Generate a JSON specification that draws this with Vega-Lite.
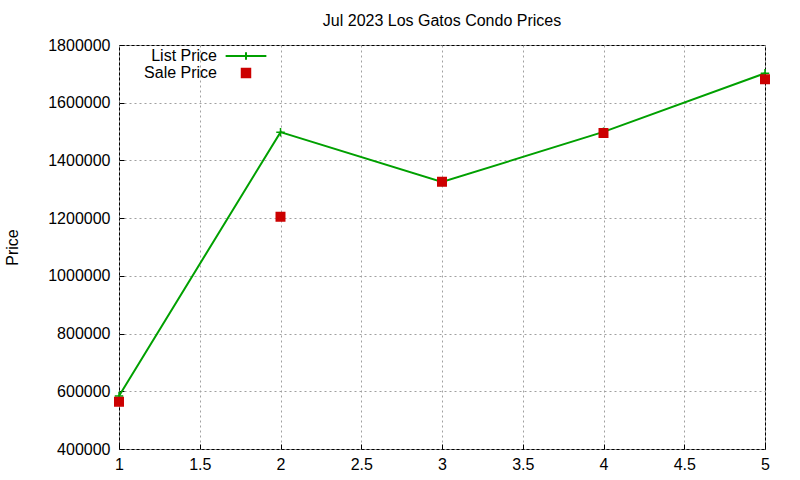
{
  "$schema": "https://vega.github.io/schema/vega-lite/v6.json",
  "autosize": "none",
  "width": 646,
  "height": 404,
  "padding": {"left": 119, "top": 45, "right": 35, "bottom": 31},
  "background": "white",
  "title": {
    "text": "Jul 2023 Los Gatos Condo Prices",
    "font": "Liberation Sans",
    "fontSize": 16,
    "fontWeight": "normal",
    "color": "black",
    "anchor": "middle",
    "offset": 8
  },
  "data": {
    "values": [
      {"n": 1, "type": "List Price", "price": 584000},
      {"n": 2, "type": "List Price", "price": 1498000},
      {"n": 3, "type": "List Price", "price": 1325000},
      {"n": 4, "type": "List Price", "price": 1499000},
      {"n": 5, "type": "List Price", "price": 1702000},
      {"n": 1, "type": "Sale Price", "price": 564000},
      {"n": 2, "type": "Sale Price", "price": 1205000},
      {"n": 3, "type": "Sale Price", "price": 1326000},
      {"n": 4, "type": "Sale Price", "price": 1495000},
      {"n": 5, "type": "Sale Price", "price": 1681000}
    ]
  },
  "encoding": {
    "x": {
      "field": "n",
      "type": "quantitative",
      "scale": {"domain": [1, 5], "nice": false, "zero": false},
      "axis": {
        "title": null,
        "values": [1, 1.5, 2, 2.5, 3, 3.5, 4, 4.5, 5],
        "format": "~g",
        "labelFlush": false,
        "labelPadding": 12,
        "tickSize": -5
      }
    },
    "y": {
      "field": "price",
      "type": "quantitative",
      "scale": {"domain": [400000, 1800000], "nice": false, "zero": false},
      "axis": {
        "title": "Price",
        "values": [400000, 600000, 800000, 1000000, 1200000, 1400000, 1600000, 1800000],
        "format": "d",
        "labelFlush": false,
        "labelPadding": 14,
        "tickSize": -5,
        "titlePadding": 27,
        "titleFontSize": 16
      }
    }
  },
  "layer": [
    {
      "transform": [{"filter": "datum.type === 'List Price'"}],
      "mark": {"type": "line", "color": "#00a000", "strokeWidth": 2}
    },
    {
      "transform": [{"filter": "datum.type === 'List Price'"}],
      "mark": {"type": "point", "shape": "M-1,0H1M0,-1V1", "size": 72, "strokeWidth": 1.5, "color": "#00a000", "opacity": 1}
    },
    {
      "transform": [{"filter": "datum.type === 'Sale Price'"}],
      "mark": {"type": "point", "size": 72, "strokeWidth": 1.5, "opacity": 1},
      "encoding": {
        "fill": {
          "field": "type",
          "type": "nominal",
          "scale": {"domain": ["List Price", "Sale Price"], "range": ["#00a000", "#cc0000"]},
          "legend": {
            "title": null,
            "orient": "none",
            "legendX": 119,
            "legendY": 3,
            "padding": 0,
            "rowPadding": 0,
            "labelAlign": "right",
            "labelOffset": -37,
            "symbolSize": 72,
            "symbolStrokeWidth": 2
          }
        },
        "stroke": {
          "field": "type",
          "type": "nominal",
          "scale": {"domain": ["List Price", "Sale Price"], "range": ["#00a000", "#cc0000"]}
        },
        "shape": {
          "field": "type",
          "type": "nominal",
          "scale": {"domain": ["List Price", "Sale Price"], "range": ["M-4.8,0H4.8M0,-0.9V0.9", "square"]}
        }
      }
    }
  ],
  "config": {
    "font": "Liberation Sans",
    "view": {"stroke": "black", "strokeWidth": 1},
    "axis": {
      "domain": false,
      "grid": true,
      "gridColor": "#a0a0a0",
      "gridDash": [2, 3],
      "gridWidth": 1,
      "tickColor": "black",
      "labelFont": "Liberation Sans",
      "labelFontSize": 16,
      "labelColor": "black",
      "titleFont": "Liberation Sans",
      "titleFontWeight": "normal",
      "titleColor": "black"
    },
    "legend": {
      "labelFont": "Liberation Sans",
      "labelFontSize": 16,
      "labelColor": "black"
    }
  }
}
